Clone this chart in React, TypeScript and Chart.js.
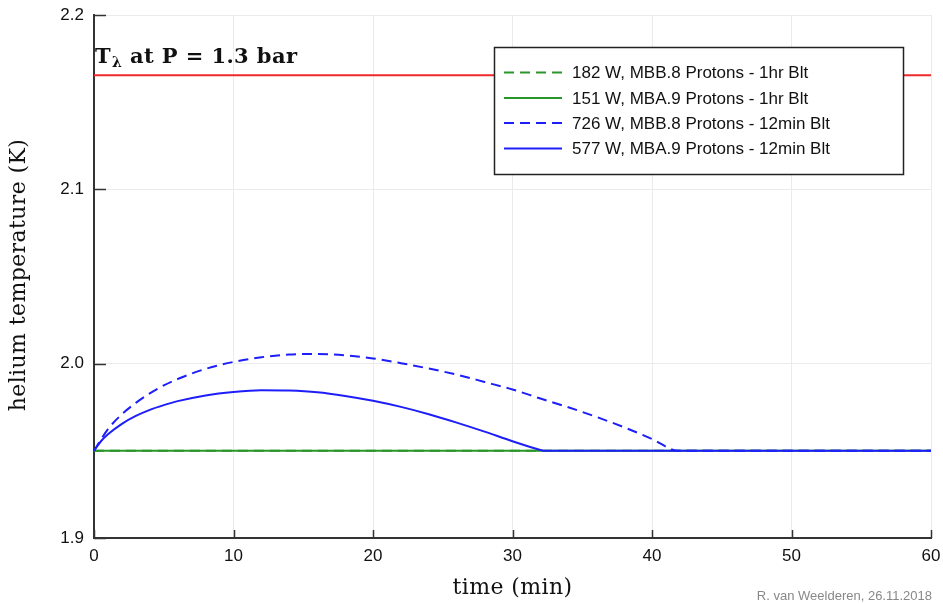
import { useEffect, useRef } from "react";
import { Chart, registerables } from "chart.js";

Chart.register(...registerables);

// ---------- data ----------
const seriesLabels = [
  "182 W, MBB.8 Protons - 1hr Blt",
  "151 W, MBA.9 Protons - 1hr Blt",
  "726 W, MBB.8 Protons - 12min Blt",
  "577 W, MBA.9 Protons - 12min Blt",
];

const greenTime = [0, 60];
const green182 = [1.95, 1.95];
const green151 = [1.95, 1.95];

const blue726Time = [0, 0.5, 1, 2, 3, 4, 5, 6, 8, 10, 12, 14, 16, 18, 20, 22, 24, 26, 28, 30, 32, 34, 36, 38, 40, 41.9, 50, 60];
const blue726 = [1.95, 1.9565, 1.9625, 1.971, 1.9775, 1.983, 1.9875, 1.9912, 1.997, 2.001, 2.0037, 2.0052, 2.0056, 2.0048, 2.003, 2.0003, 1.9972, 1.9937, 1.9895, 1.9852, 1.98, 1.975, 1.9695, 1.9635, 1.9568, 1.95, 1.95, 1.95];

const blue577Time = [0, 0.5, 1, 2, 3, 4, 5, 6, 8, 10, 12, 14, 16, 18, 20, 22, 24, 26, 28, 30, 32, 32.3, 40, 50, 60];
const blue577 = [1.95, 1.9555, 1.9595, 1.9655, 1.97, 1.9735, 1.9762, 1.9785, 1.9818, 1.9838, 1.9848, 1.9846, 1.9836, 1.9815, 1.9787, 1.9752, 1.971, 1.9662, 1.961, 1.9555, 1.9505, 1.95, 1.95, 1.95, 1.95];

const lambdaTime = [0, 60];
const lambdaTemp = [2.1655, 2.1655];

const xTicks = [0, 10, 20, 30, 40, 50, 60];
const yTicks = [1.9, 2.0, 2.1, 2.2];

const annotationMain = "T";
const annotationSub = "λ";
const annotationRest = " at P = 1.3 bar";
const xTitle = "time (min)";
const yTitle = "helium temperature (K)";
const credit = "R. van Weelderen, 26.11.2018";

// ---------- styles ----------
const GREEN = "rgb(40,150,40)";
const BLUE = "rgb(30,30,250)";
const RED = "rgb(240,40,40)";
const DASH = [10, 6];
const SANS = "'Liberation Sans', Arial, sans-serif";
const SERIF = "'DejaVu Serif', 'Liberation Serif', serif";

const toPts = (xs: number[], ys: number[]) => xs.map((x, i) => ({ x, y: ys[i] }));

const legendStyles = [
  { color: GREEN, dash: DASH },
  { color: GREEN, dash: [] as number[] },
  { color: BLUE, dash: DASH },
  { color: BLUE, dash: [] as number[] },
];

const decorPlugin = {
  id: "decor",
  afterDraw(chart: any) {
    const ctx = chart.ctx as CanvasRenderingContext2D;
    const { left, right, top, bottom } = chart.chartArea;
    const xs = chart.scales.x;
    const ys = chart.scales.y;
    ctx.save();

    // inward ticks
    ctx.strokeStyle = "#333";
    ctx.lineWidth = 1.5;
    ctx.beginPath();
    for (const v of yTicks) {
      const y = Math.round(ys.getPixelForValue(v)) + 0.5;
      ctx.moveTo(left, y);
      ctx.lineTo(left + 12, y);
    }
    for (const v of xTicks) {
      const x = Math.round(xs.getPixelForValue(v)) + 0.5;
      ctx.moveTo(x, bottom);
      ctx.lineTo(x, bottom - 8);
    }
    ctx.stroke();

    // annotation T_lambda
    ctx.fillStyle = "#111";
    ctx.textBaseline = "alphabetic";
    ctx.textAlign = "left";
    let ax = left + 1;
    const ay = 63;
    ctx.font = `bold 21px ${SERIF}`;
    (ctx as any).letterSpacing = "0.4px";
    ctx.fillText(annotationMain, ax, ay);
    ax += ctx.measureText(annotationMain).width + 1;
    ctx.font = `bold 14px ${SERIF}`;
    ctx.fillText(annotationSub, ax, ay + 4);
    ax += ctx.measureText(annotationSub).width;
    ctx.font = `bold 21px ${SERIF}`;
    ctx.fillText(annotationRest, ax, ay);
    (ctx as any).letterSpacing = "0px";

    // legend box
    const bx = 494.5, by = 47.5, bw = 409, bh = 127;
    ctx.fillStyle = "#fff";
    ctx.fillRect(bx, by, bw, bh);
    ctx.strokeStyle = "#222";
    ctx.lineWidth = 1.5;
    ctx.strokeRect(bx, by, bw, bh);
    const rowY = [72.5, 98, 123, 148.5];
    ctx.font = `17px ${SANS}`;
    ctx.textBaseline = "middle";
    seriesLabels.forEach((lab, i) => {
      const st = legendStyles[i];
      ctx.strokeStyle = st.color;
      ctx.lineWidth = 2;
      ctx.setLineDash(st.dash);
      ctx.beginPath();
      ctx.moveTo(504, rowY[i]);
      ctx.lineTo(562, rowY[i]);
      ctx.stroke();
      ctx.setLineDash([]);
      ctx.fillStyle = "#111";
      ctx.fillText(lab, 572, rowY[i] + 1);
    });

    // axis titles
    ctx.fillStyle = "#111";
    ctx.font = `22px ${SERIF}`;
    (ctx as any).letterSpacing = "0.4px";
    ctx.textAlign = "center";
    ctx.textBaseline = "alphabetic";
    ctx.fillText(xTitle, (left + right) / 2, 594);
    ctx.save();
    ctx.translate(25, 275);
    ctx.rotate(-Math.PI / 2);
    ctx.fillText(yTitle, 0, 0);
    ctx.restore();
    (ctx as any).letterSpacing = "0px";

    // credit
    ctx.fillStyle = "#888";
    ctx.font = `13px ${SANS}`;
    ctx.textAlign = "right";
    ctx.fillText(credit, right + 1, 600);

    ctx.restore();
  },
};

export default function App() {
  const ref = useRef<HTMLCanvasElement>(null);
  useEffect(() => {
    document.body.style.margin = "0";
    const common = { pointRadius: 0, borderWidth: 2, cubicInterpolationMode: "monotone" as const, fill: false };
    const chart = new Chart(ref.current!, {
      type: "line",
      data: {
        datasets: [
          { label: "lambda", data: toPts(lambdaTime, lambdaTemp), borderColor: RED, ...common, order: 5 },
          { label: seriesLabels[0], data: toPts(greenTime, green182), borderColor: GREEN, borderDash: DASH, ...common, order: 4 },
          { label: seriesLabels[1], data: toPts(greenTime, green151), borderColor: GREEN, ...common, order: 3 },
          { label: seriesLabels[2], data: toPts(blue726Time, blue726), borderColor: BLUE, borderDash: DASH, ...common, order: 1 },
          { label: seriesLabels[3], data: toPts(blue577Time, blue577), borderColor: BLUE, ...common, order: 0 },
        ] as any,
      },
      options: {
        responsive: false,
        animation: false,
        events: [],
        layout: { padding: { top: 15, right: 12, left: 0, bottom: 0 } },
        plugins: { legend: { display: false }, tooltip: { enabled: false }, title: { display: false } },
        scales: {
          x: {
            type: "linear",
            min: 0,
            max: 60,
            afterFit: (s: any) => { s.height = 66; s.paddingLeft = 0; s.paddingRight = 0; },
            afterBuildTicks: (s: any) => { s.ticks = xTicks.map((v) => ({ value: v })); },
            ticks: { font: { size: 17, family: SANS }, color: "#111", padding: 8, maxRotation: 0 },
            grid: { color: "#ebebeb", lineWidth: 1, drawTicks: false },
            border: { display: true, color: "#333", width: 2 },
          },
          y: {
            type: "linear",
            min: 1.9,
            max: 2.2,
            afterFit: (s: any) => { s.width = 94; s.paddingTop = 0; s.paddingBottom = 0; },
            afterBuildTicks: (s: any) => { s.ticks = yTicks.map((v) => ({ value: v })); },
            ticks: { font: { size: 17, family: SANS }, color: "#111", padding: 10, callback: (v: any) => Number(v).toFixed(1) },
            grid: { color: "#ebebeb", lineWidth: 1, drawTicks: false },
            border: { display: true, color: "#333", width: 2 },
          },
        },
      },
      plugins: [decorPlugin],
    });
    return () => chart.destroy();
  }, []);
  return (
    <div style={{ width: 943, height: 604, background: "#fff" }}>
      <canvas ref={ref} width={943} height={604} style={{ display: "block" }} />
    </div>
  );
}
